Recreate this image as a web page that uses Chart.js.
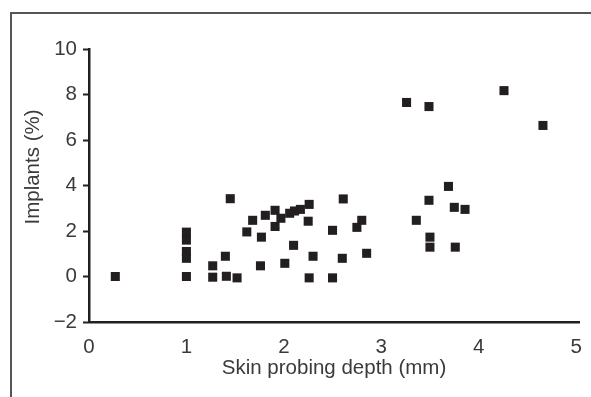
<!DOCTYPE html>
<html>
<head>
<meta charset="utf-8">
<script src="https://cdn.jsdelivr.net/npm/chart.js@4"></script>
<style>
    html, body { margin: 0; padding: 0; background: #fff; overflow: hidden; }
    .frame {
        position: absolute;
        left: 10px;
        top: 12px;
        width: 1000px;
        height: 1000px;
        border: 2px solid #555;
    }
    #chart { position: absolute; left: 0; top: 0; }
</style>
</head>
<body>
<div class="frame"></div>
<canvas id="chart" width="591" height="397"></canvas>
<script>
// Skin probing depth (mm) and implants (%) per patient
const depthMm = [
    0.27,
    1, 1, 1, 1, 1,
    1.27, 1.27,
    1.40, 1.41, 1.52,
    1.45, 1.62, 1.68,
    1.76, 1.77, 1.81,
    1.91, 1.91, 1.97, 2.01,
    2.06, 2.11, 2.17, 2.10,
    2.26, 2.25, 2.26, 2.30,
    2.50, 2.50, 2.61, 2.60,
    2.75, 2.80, 2.85,
    3.26, 3.49, 3.36,
    3.49, 3.50, 3.50,
    3.69, 3.75, 3.76, 3.86,
    4.26, 4.66
];
const implantsPct = [
    0,
    0, 0.8, 1.1, 1.6, 1.95,
    0.47, -0.03,
    0.89, 0.01, -0.06,
    3.42, 1.96, 2.47,
    0.47, 1.73, 2.69,
    2.91, 2.2, 2.56, 0.58,
    2.78, 2.88, 2.95, 1.37,
    3.17, 2.43, -0.06, 0.89,
    2.03, -0.06, 3.41, 0.80,
    2.16, 2.47, 1.02,
    7.65, 7.47, 2.47,
    3.35, 1.73, 1.29,
    3.96, 3.04, 1.29, 2.95,
    8.17, 6.64
];
const xTicks = [0, 1, 2, 3, 4, 5];
const xTitle = 'Skin probing depth (mm)';
const yTitle = 'Implants (%)';

const ink = '#231f20';
const textColor = '#3a3a3a';
const font = { family: "'Liberation Sans', Arial, sans-serif", size: 20.5 };

// draws the y axis title a bit above the middle, as in the original
const yTitlePlugin = {
    id: 'yTitle',
    afterDraw(chart) {
        const ctx = chart.ctx;
        ctx.save();
        ctx.translate(33, 167);
        ctx.rotate(-Math.PI / 2);
        ctx.font = `${font.size}px ${font.family}`;
        ctx.fillStyle = textColor;
        ctx.textAlign = 'center';
        ctx.textBaseline = 'middle';
        ctx.fillText(yTitle, 0, 0);
        ctx.restore();
    }
};

new Chart(document.getElementById('chart'), {
    type: 'scatter',
    data: {
        datasets: [{
            data: depthMm.map((x, i) => ({ x: x, y: implantsPct[i] })),
            pointStyle: 'rect',
            radius: 6.4,
            hoverRadius: 6.4,
            borderWidth: 0,
            backgroundColor: ink
        }]
    },
    options: {
        responsive: false,
        animation: false,
        layout: { padding: { top: 49, right: 12, left: 0, bottom: 0 } },
        plugins: {
            legend: { display: false },
            tooltip: { enabled: false }
        },
        scales: {
            x: {
                type: 'linear',
                min: 0,
                max: 5.03,
                afterBuildTicks: (scale) => {
                    scale.ticks = xTicks.map(v => ({ value: v }));
                },
                afterFit: (scale) => { scale.height = 75; },
                grid: { display: false },
                border: { display: true, color: ink, width: 2.5 },
                ticks: { color: textColor, font: font, padding: 5, maxRotation: 0 },
                title: {
                    display: true,
                    text: xTitle,
                    color: textColor,
                    font: font,
                    padding: { top: 0, bottom: 16 }
                }
            },
            y: {
                min: -2,
                max: 10,
                afterFit: (scale) => { scale.width = 89; },
                grid: {
                    display: true,
                    drawOnChartArea: false,
                    drawTicks: true,
                    tickLength: 6,
                    tickColor: ink,
                    tickWidth: 2
                },
                border: { display: true, color: ink, width: 2.5 },
                ticks: {
                    stepSize: 2,
                    color: textColor,
                    font: font,
                    padding: 6,
                    callback: (v) => String(v).replace('-', '\u2212')
                }
            }
        }
    },
    plugins: [yTitlePlugin]
});
</script>
</body>
</html>
